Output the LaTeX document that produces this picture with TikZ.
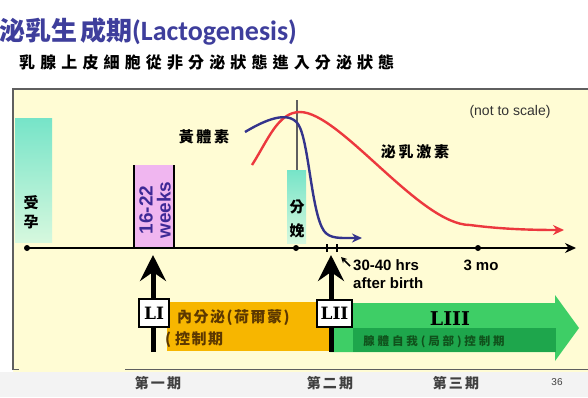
\documentclass[tikz,border=0pt]{standalone}
\usepackage{fontspec}
\setmainfont{Liberation Sans}
\newfontfamily\cjk{Noto Sans CJK TC}
\newfontfamily\titlelat{Carlito}
\newfontfamily\romfont{DejaVu Serif Bold}
\usetikzlibrary{arrows.meta}
\definecolor{paneltint}{RGB}{255,252,212}
\definecolor{titleblue}{RGB}{62,62,156}
\definecolor{tealtop}{RGB}{118,228,200}
\definecolor{tealbot}{RGB}{214,248,222}
\definecolor{pinkbox}{RGB}{240,182,240}
\definecolor{weekblue}{RGB}{62,42,150}
\definecolor{progblue}{RGB}{52,52,140}
\definecolor{prolred}{RGB}{236,56,62}
\definecolor{orangebox}{RGB}{247,182,0}
\definecolor{greenbox}{RGB}{62,206,102}
\definecolor{greendark}{RGB}{30,166,76}
\definecolor{orangetext}{RGB}{92,56,0}
\definecolor{greentext}{RGB}{16,82,28}
\definecolor{slidegray}{RGB}{243,243,243}
\definecolor{framegray}{RGB}{95,95,95}
\tikzset{
  cjklabel/.style={inner sep=0, font=\cjk\bfseries\addfontfeature{LetterSpace=18}\fontsize{15}{17}\selectfont},
  lbox/.style={draw=black, fill=white, line width=1.2pt, inner sep=0, font=\romfont\fontsize{17}{20}\selectfont},
  bigarrow/.style={line width=5pt, -{Stealth[length=26pt,width=26pt,inset=9pt]}},
  curve/.style={line width=2.4pt},
  dot/.style={circle, fill=black, inner sep=0, minimum size=6pt},
  latinlabel/.style={inner sep=0, font=\bfseries\fontsize{15}{18}\selectfont}
}
\begin{document}
\begin{tikzpicture}[x=1pt,y=-1pt]
\useasboundingbox (0,0) rectangle (588,397);
\fill[white] (0,0) rectangle (588,397);
\fill[slidegray] (0,372) rectangle (588,397);
% panel
\fill[paneltint] (13,89) rectangle (588,372);
\draw[framegray, line width=1.3pt] (13,370) -- (13,89) -- (588,89);
\draw[framegray, line width=1.3pt] (13,369.5) -- (19,369.5);
\draw[framegray, line width=1.3pt] (125,369.5) -- (588,369.5);
% boxes
\shade[top color=tealtop, bottom color=tealbot] (15,118) rectangle (52,242);
\fill[pinkbox] (134,165) rectangle (174,248);
\draw[black, line width=1.2pt] (134,165) -- (134,248) (174,165) -- (174,248);
\draw[framegray, line width=1.3pt] (297,100) -- (297,170);
\shade[top color=tealtop, bottom color=tealbot] (287,170) rectangle (306,243);
% hormone curves
\draw[curve, prolred, -{Stealth[length=11pt,width=10pt]}] (252,165) .. controls (268,140) and (278,112) .. (300,112)
  .. controls (340,112) and (420,225) .. (470,225) .. controls (500,229) and (530,230) .. (564,230);
\draw[curve, progblue, -{Stealth[length=10pt,width=9pt]}] (245,132) .. controls (265,120) and (288,110) .. (298,124)
  .. controls (309,140) and (311,212) .. (324,231) .. controls (330,239) and (340,238) .. (362,238);
% axis
\coordinate (axstart) at (27,248);
\coordinate (axend) at (576,248);
\draw[black, line width=1.3pt, -{Stealth[length=11pt,width=10pt]}] (axstart) -- (axend);
\node[dot] (d1) at (27,248) {};
\node[dot] (d2) at (296,248) {};
\node[dot] (d3) at (478,248) {};
\coordinate (brl) at (327,248);
\coordinate (brr) at (337,248);
\draw[black, line width=1.8pt] (brl) -- (brr);
\draw[black, line width=1.5pt] ([yshift=-4pt]brl) -- ([yshift=4pt]brl) ([yshift=-4pt]brr) -- ([yshift=4pt]brr);
% phase bars
\fill[orangebox] (167,302) rectangle (331,351);
\fill[greenbox] (330,303) -- (555,303) -- (555,295) -- (579,328) -- (555,361) -- (555,352) -- (330,352) -- cycle;
\fill[greendark] (353,328) rectangle (556,352);
% LI and LII arrows
\coordinate (libot) at (153,352);
\coordinate (litop) at (153,255);
\coordinate (liibot) at (331,352);
\coordinate (liitop) at (331,255);
\draw[bigarrow] (libot) -- (litop);
\draw[bigarrow] (liibot) -- (liitop);
\coordinate (smtail) at (350,266);
\coordinate (smtip) at (341,257);
\draw[black, line width=1.6pt, -{Stealth[length=6pt,width=6pt]}] (smtail) -- (smtip);
\node[lbox, minimum width=30pt, minimum height=28pt] (li) at (154,313) {LI};
\node[lbox, minimum width=35pt, minimum height=27pt] (lii) at (334.5,313.5) {LII};
% titles
\node[anchor=west, inner sep=0, text=titleblue] (title) at (-1,32)
  {\cjk\bfseries\fontsize{26}{28}\selectfont 泌乳生\hspace{3pt}成期\titlelat\bfseries\fontsize{28}{30}\selectfont(Lactogenesis)};
\node[anchor=west, inner sep=0] (subtitle) at (19,63)
  {\cjk\bfseries\addfontfeature{LetterSpace=32}\fontsize{16}{18}\selectfont 乳腺上皮細胞從非分泌狀態進入分泌狀態};
% labels
\node[cjklabel] (prog) at (204,137) {黃體素};
\node[cjklabel] (prol) at (415,152) {泌乳激素};
\node[inner sep=0, font=\fontsize{14}{16}\selectfont, text=black!80] (nts) at (510,112) {(not to scale)};
\node[cjklabel, align=center, font=\cjk\bfseries\fontsize{15}{19}\selectfont] (conc) at (31,212) {受\\孕};
\node[cjklabel, align=center, font=\cjk\bfseries\fontsize{15}{24}\selectfont] (birth) at (297,219) {分\\娩};
\node[inner sep=0, rotate=90, align=center, text=weekblue, font=\bfseries\fontsize{19}{18}\selectfont] (weeks) at (155,210) {16-22\\weeks};
\node[latinlabel, anchor=west, align=left] (hrs) at (353,274) {30-40 hrs\\after birth};
\node[latinlabel] (mo) at (481,265) {3 mo};
\node[inner sep=0, anchor=west, text=orangetext, font=\cjk\bfseries\addfontfeature{LetterSpace=10}\fontsize{15}{17}\selectfont] (endo) at (177,318) {內分泌(荷爾蒙)};
\node[inner sep=0, anchor=west, text=orangetext, font=\cjk\bfseries\addfontfeature{LetterSpace=10}\fontsize{15}{17}\selectfont] (ctrl) at (165,340) {(\hspace{4pt}控制期};
\node[inner sep=0, font=\romfont\fontsize{19}{22}\selectfont, text=black] (liii) at (450,319) {LIII};
\node[inner sep=0, text=greentext, font=\cjk\bfseries\addfontfeature{LetterSpace=25}\fontsize{11.5}{13}\selectfont] (auto) at (434,342) {腺體自我(局部)控制期};
\node[cjklabel, text=black!75, font=\cjk\bfseries\addfontfeature{LetterSpace=15}\fontsize{14}{16}\selectfont] (p1) at (158,383) {第一期};
\node[cjklabel, text=black!75, font=\cjk\bfseries\addfontfeature{LetterSpace=15}\fontsize{14}{16}\selectfont] (p2) at (330,383) {第二期};
\node[cjklabel, text=black!75, font=\cjk\bfseries\addfontfeature{LetterSpace=15}\fontsize{14}{16}\selectfont] (p3) at (456,383) {第三期};
\node[inner sep=0, font=\fontsize{10}{12}\selectfont, text=black!75] (pg) at (557,382) {36};
\end{tikzpicture}
\end{document}
